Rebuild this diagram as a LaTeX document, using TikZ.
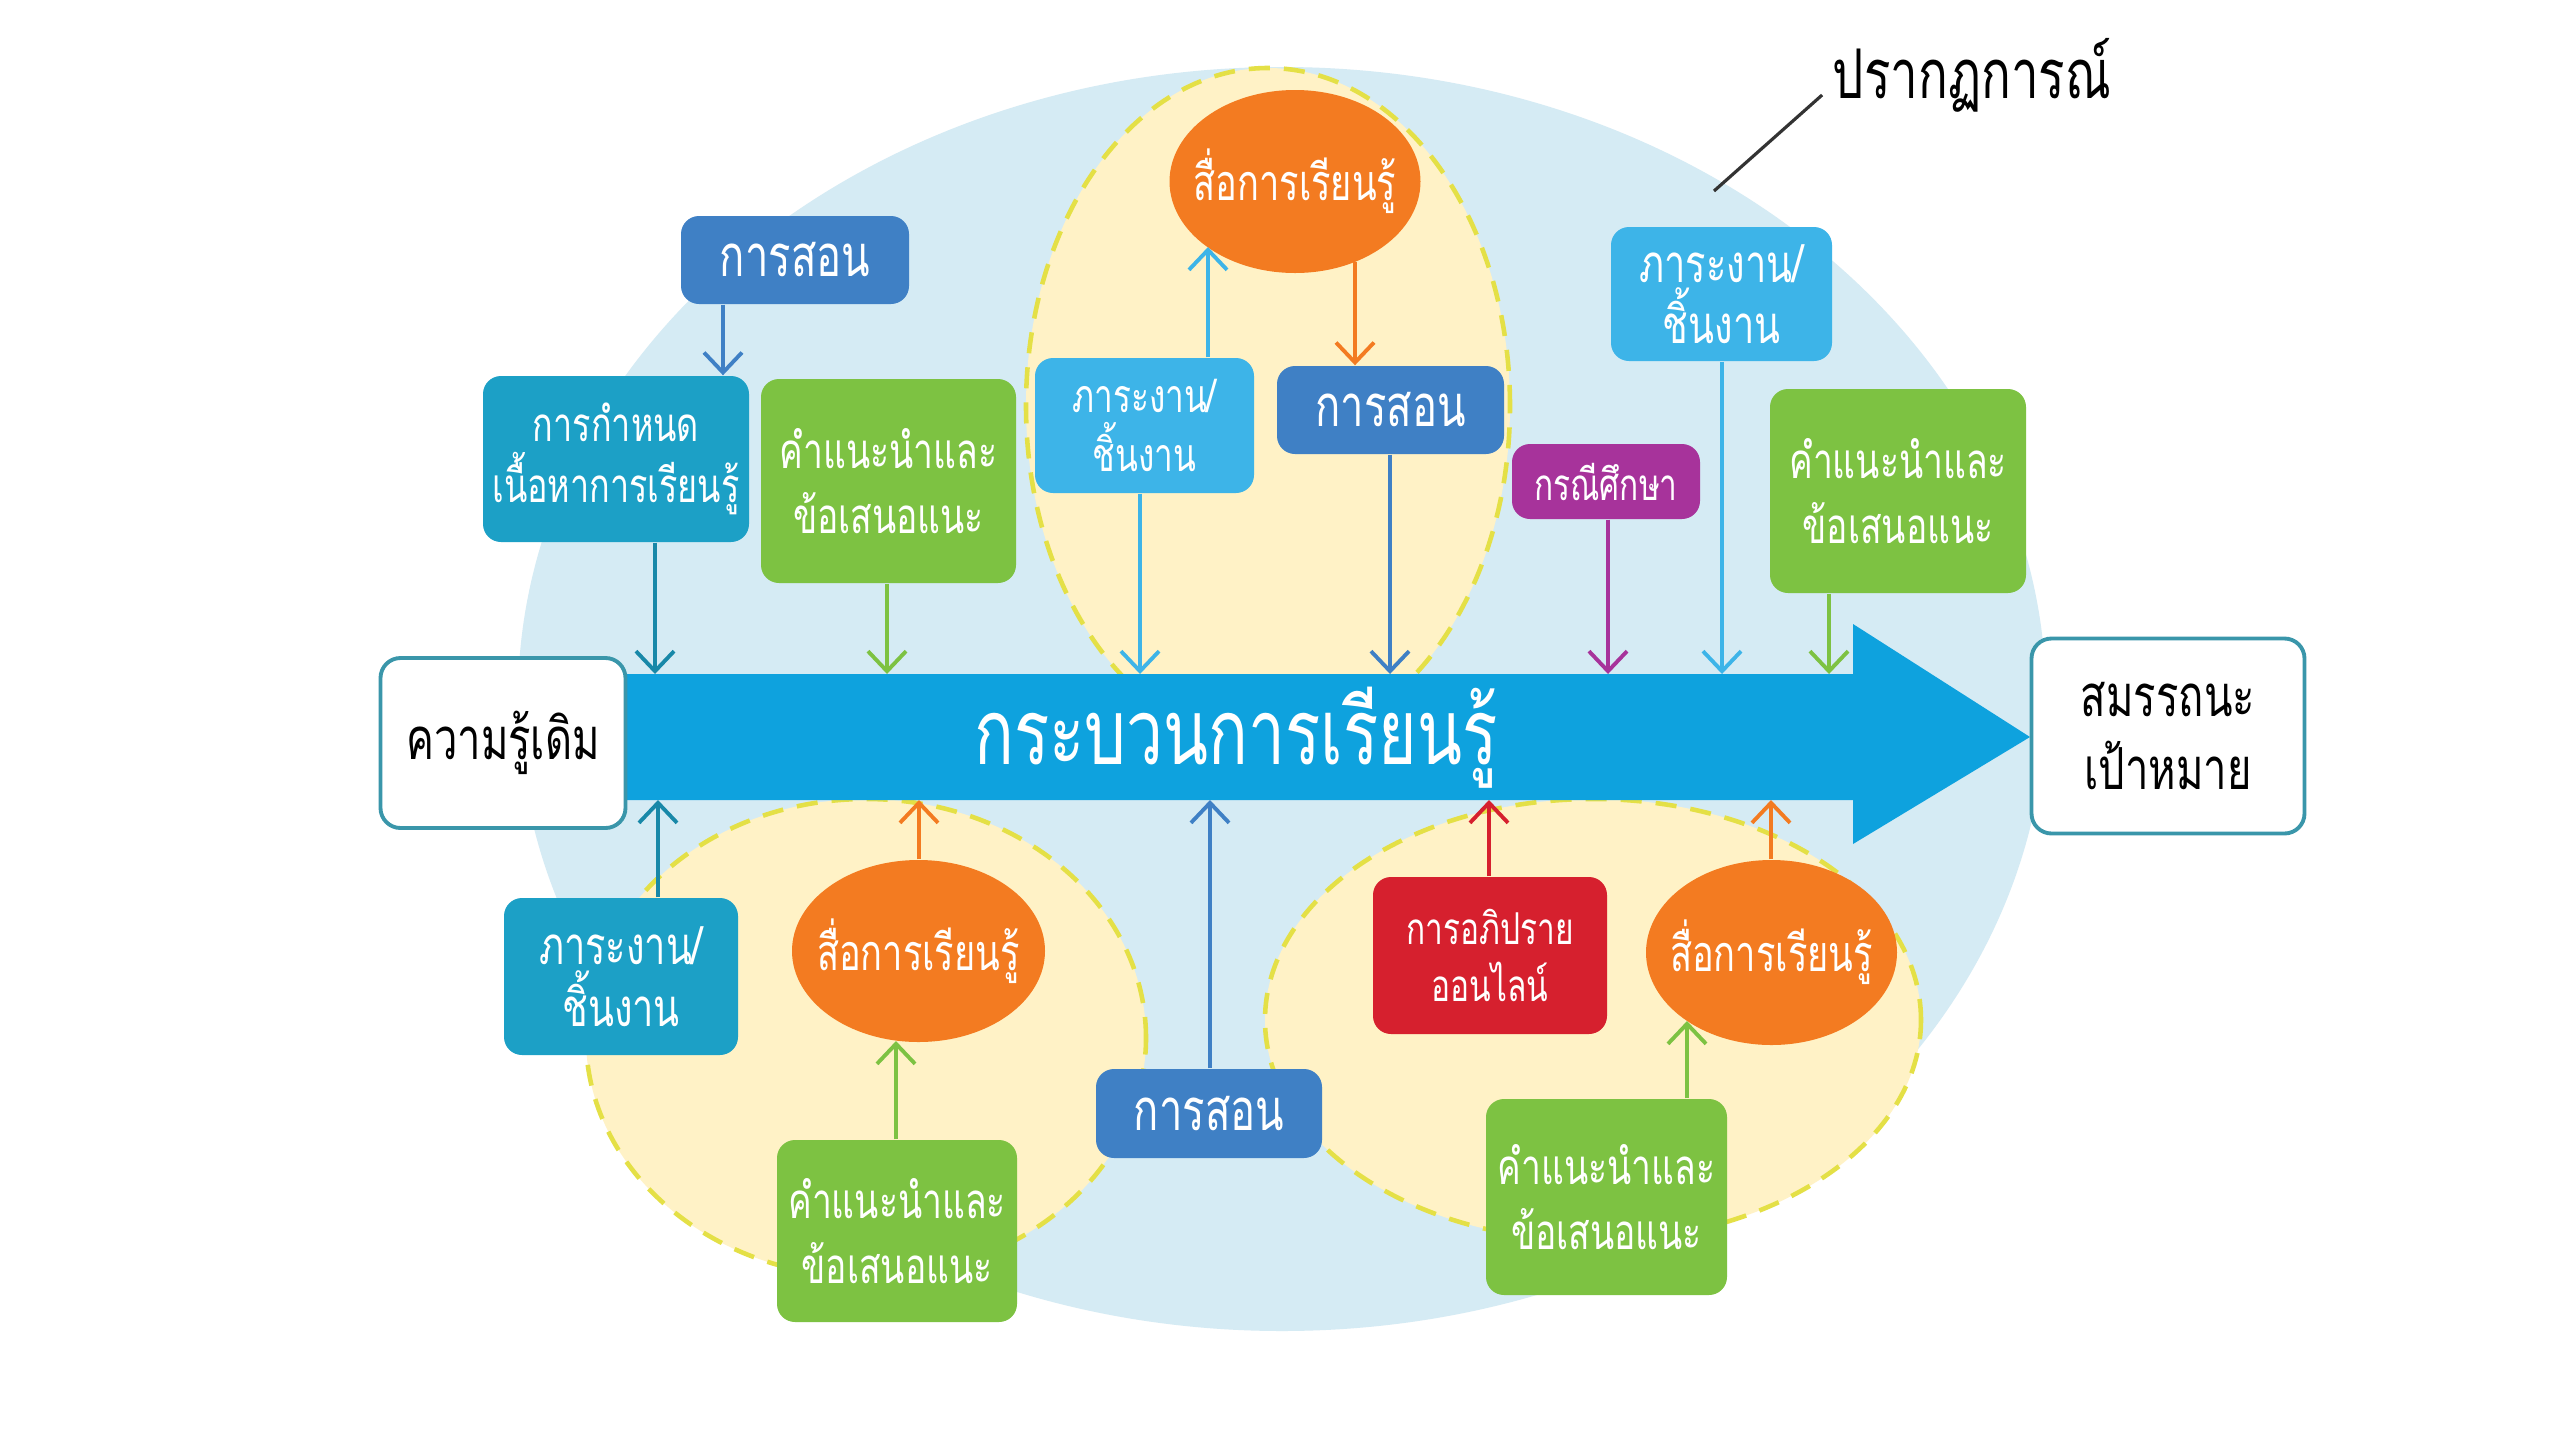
\documentclass[tikz,border=0pt]{standalone}
\usepackage{fontspec}
\newfontfamily\thai[Script=Thai,FakeStretch=0.72]{Loma}
\usetikzlibrary{arrows.meta,shapes.geometric}
\definecolor{bgblue}{RGB}{213,235,244}
\definecolor{yfill}{RGB}{255,242,198}
\definecolor{ydash}{RGB}{228,224,70}
\definecolor{arrblue}{RGB}{14,162,222}
\definecolor{dblue}{RGB}{63,128,197}
\definecolor{teal}{RGB}{28,160,198}
\definecolor{lblue}{RGB}{61,180,232}
\definecolor{green}{RGB}{125,194,66}
\definecolor{orange}{RGB}{243,123,33}
\definecolor{purple}{RGB}{167,51,155}
\definecolor{red}{RGB}{214,32,46}
\definecolor{frame}{RGB}{58,150,170}
\newcommand{\tf}[2]{\thai\fontsize{#1}{#2}\selectfont}
\newcommand{\zw}[1]{\makebox[0pt]{#1}}
\tikzset{
  yel/.style={fill=yfill, draw=ydash, line width=1.3pt, dash pattern=on 6pt off 4pt},
  box/.style={rounded corners=0.18cm, text=white, align=center, inner sep=0pt,
    font=\tf{15}{17.5}},
  oval/.style={ellipse, text=white, align=center, inner sep=0pt, fill=orange,
    font=\tf{14.3}{17}},
  wbox/.style={rounded corners=0.2cm, fill=white, draw=frame, line width=1.1pt, align=center,
    inner sep=0pt, text=black, font=\tf{16.5}{21}},
  con/.style={line width=1.1pt, -{Straight Barb[length=2mm,width=3.8mm]}},
}
\begin{document}
\begin{tikzpicture}
\useasboundingbox (0,0) rectangle (25.6,-14.4);
\fill[white] (0,0) rectangle (25.6,-14.4);
% background shapes
\fill[bgblue] (12.82,-6.99) ellipse [x radius=7.64, y radius=6.32];
\draw[yel] (12.68,-4.06) ellipse [x radius=2.42, y radius=3.38];
\draw[yel] (8.66,-10.38) ellipse [x radius=2.80, y radius=2.39];
\draw[yel] (15.93,-10.20) ellipse [x radius=3.28, y radius=2.21];
% main arrow
\fill[arrblue] (6.25,-6.74) -- (18.53,-6.74) -- (18.53,-6.24) -- (20.30,-7.37)
  -- (18.53,-8.44) -- (18.53,-8.00) -- (6.25,-8.00) -- cycle;
\node[text=white, font=\tf{26}{30}] (proc) at (12.36,-7.38) {กระบวนการเรียนรู้};
% end boxes
\node[wbox, minimum width=2.45cm, minimum height=1.70cm] (prior) at (5.03,-7.43) {ความรู้เดิม};
\node[wbox, minimum width=2.73cm, minimum height=1.95cm] (goal) at (21.68,-7.36) {สมรรถนะ\\เป้าหมาย};
% label
\node[font=\tf{19.5}{22}, inner sep=0pt] (lbl) at (19.72,-0.75) {ปรากฏการณ์};
\coordinate (lead) at (17.14,-1.91);
\draw[line width=0.9pt, black!80] ([shift={(-0.1,-0.2)}]lbl.west) -- (lead);
% top boxes
\node[box, fill=dblue, minimum width=2.28cm, minimum height=0.88cm, font=\tf{16.5}{18}] (ts1) at (7.95,-2.60) {การสอน};
\node[box, fill=teal, minimum width=2.66cm, minimum height=1.66cm, font=\tf{13.5}{17.5}] (kd) at (6.16,-4.59) {การกำหนด\\เนื้อหาการเรียนรู้};
\node[box, fill=green, minimum width=2.55cm, minimum height=2.04cm, font=\tf{14}{18.5}] (g1) at (8.885,-4.81) {คำแนะนำและ\\ข้อเสนอแนะ};
\node[oval, minimum width=2.51cm, minimum height=1.83cm] (or1) at (12.95,-1.815) {\zw{สื่อการเรียนรู้}};
\node[box, fill=lblue, minimum width=2.19cm, minimum height=1.35cm, font=\tf{13.2}{17}] (lb1) at (11.445,-4.255) {ภาระงาน/\\ชิ้นงาน};
\node[box, fill=dblue, minimum width=2.27cm, minimum height=0.88cm, font=\tf{16.5}{18}] (ts2) at (13.905,-4.10) {การสอน};
\node[box, fill=purple, minimum width=1.88cm, minimum height=0.75cm, font=\tf{12.5}{15}] (pc) at (16.06,-4.815) {กรณีศึกษา};
\node[box, fill=lblue, minimum width=2.21cm, minimum height=1.34cm] (lb2) at (17.215,-2.94) {ภาระงาน/\\ชิ้นงาน};
\node[box, fill=green, minimum width=2.56cm, minimum height=2.04cm, font=\tf{14}{18.5}] (g2) at (18.98,-4.91) {คำแนะนำและ\\ข้อเสนอแนะ};
% bottom boxes
\node[box, fill=teal, minimum width=2.34cm, minimum height=1.57cm] (lb3) at (6.21,-9.765) {ภาระงาน/\\ชิ้นงาน};
\node[oval, minimum width=2.53cm, minimum height=1.82cm] (or2) at (9.185,-9.51) {\zw{สื่อการเรียนรู้}};
\node[box, fill=green, minimum width=2.40cm, minimum height=1.82cm, font=\tf{14}{18.5}] (g3) at (8.97,-12.31) {คำแนะนำและ\\ข้อเสนอแนะ};
\node[box, fill=dblue, minimum width=2.26cm, minimum height=0.89cm, font=\tf{16.5}{18}] (ts3) at (12.09,-11.135) {การสอน};
\node[box, fill=red, minimum width=2.34cm, minimum height=1.57cm, font=\tf{12.5}{16}] (rd) at (14.90,-9.555) {การอภิปราย\\ออนไลน์};
\node[oval, minimum width=2.51cm, minimum height=1.85cm] (or3) at (17.715,-9.525) {\zw{สื่อการเรียนรู้}};
\node[box, fill=green, minimum width=2.41cm, minimum height=1.96cm, font=\tf{14}{18.5}] (g4) at (16.065,-11.97) {คำแนะนำและ\\ข้อเสนอแนะ};
% connector anchor points on the main arrow
\coordinate (t2) at (6.55,-6.74);
\coordinate (t3) at (8.87,-6.74);
\coordinate (t6) at (11.40,-6.74);
\coordinate (t7) at (13.90,-6.74);
\coordinate (t8) at (16.08,-6.74);
\coordinate (t9) at (17.22,-6.74);
\coordinate (t10) at (18.29,-6.74);
\coordinate (b11) at (6.58,-8.00);
\coordinate (b12) at (9.19,-8.00);
\coordinate (b14) at (12.10,-8.00);
\coordinate (b15) at (14.89,-8.00);
\coordinate (b16) at (17.71,-8.00);
\coordinate (k1) at (7.23,-3.76);
\coordinate (e4) at (12.08,-2.47);
\coordinate (e5) at (13.55,-2.62);
\coordinate (e13) at (8.96,-10.41);
\coordinate (e17) at (16.87,-10.21);
% connectors
\draw[con, dblue] (ts1.south -| k1) -- (kd.north -| k1);
\draw[con, teal!85!black] (kd.south -| t2) -- (t2);
\draw[con, green] (g1.south -| t3) -- (t3);
\draw[con, lblue] (lb1.north -| e4) -- (e4);
\draw[con, orange] (e5) -- (ts2.north -| e5);
\draw[con, lblue] (lb1.south -| t6) -- (t6);
\draw[con, dblue] (ts2.south -| t7) -- (t7);
\draw[con, purple] (pc.south -| t8) -- (t8);
\draw[con, lblue] (lb2.south -| t9) -- (t9);
\draw[con, green] (g2.south -| t10) -- (t10);
\draw[con, teal!85!black] (lb3.north -| b11) -- (b11);
\draw[con, orange] (or2.north -| b12) -- (b12);
\draw[con, green] (g3.north -| e13) -- (e13);
\draw[con, dblue] (ts3.north -| b14) -- (b14);
\draw[con, red] (rd.north -| b15) -- (b15);
\draw[con, orange] (or3.north -| b16) -- (b16);
\draw[con, green] (g4.north -| e17) -- (e17);
\end{tikzpicture}
\end{document}
